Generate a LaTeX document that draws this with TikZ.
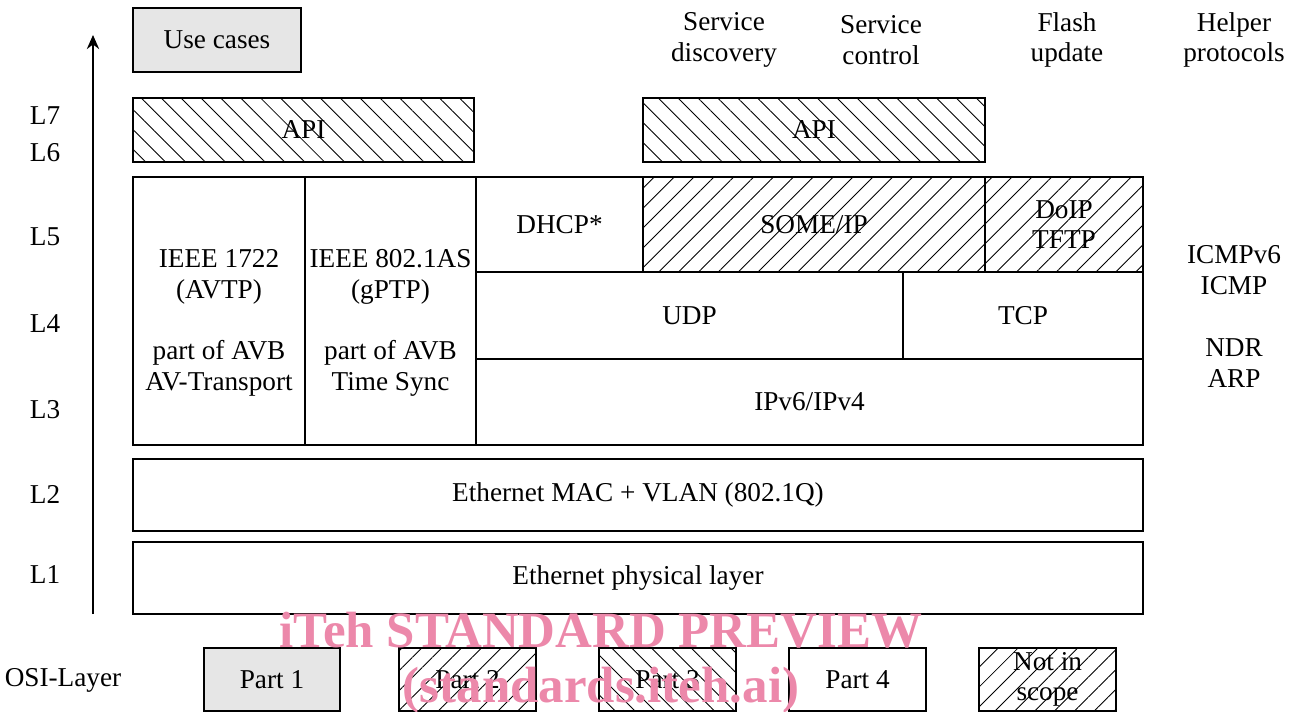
\documentclass[tikz,border=0pt]{standalone}
\usepackage{fontspec}
\setmainfont{Liberation Serif}
\usetikzlibrary{patterns.meta,arrows.meta}
\definecolor{casegray}{RGB}{230,230,230}
\definecolor{wmpink}{RGB}{236,136,170}
\tikzset{
	box/.style={draw=black, line width=1.1pt, inner sep=0pt, outer sep=0pt, align=center, font=\fontsize{15.5}{17.5}\selectfont},
	wh/.style 2 args={minimum width=#1*0.02cm, minimum height=#2*0.02cm},
	hatchnw/.style={pattern={Lines[angle=-45,distance=8pt,line width=0.5pt]}},
	hatchne/.style={pattern={Lines[angle=45,distance=8pt,line width=0.5pt]}},
	lbl/.style={font=\fontsize{15.5}{17.5}\selectfont, align=center, inner sep=0pt},
	wmark/.style={text=wmpink, font=\fontsize{29}{30}\selectfont\bfseries, inner sep=0pt},
}

\begin{document}
\begin{tikzpicture}[x=0.02cm, y=-0.02cm]
	\useasboundingbox (0,0) rectangle (1301,712);
	
	% OSI axis
	\coordinate (abot) at (93,614);
	\coordinate (atop) at (93,35);
	\draw [line width=1.1pt, -{Stealth[length=8pt,width=7pt]}] (abot) to (atop);
	
	\node [lbl] (l7) at (45,116) {L7};
	\node [lbl] (l6) at (45,153) {L6};
	\node [lbl] (l5) at (45,237) {L5};
	\node [lbl] (l4) at (45,324) {L4};
	\node [lbl] (l3) at (45,410) {L3};
	\node [lbl] (l2) at (45,494) {L2};
	\node [lbl] (l1) at (45,575) {L1};
	\node [lbl] (osi) at (63,680) {OSI-Layer};
	
	% headers
	\node [box, wh={168}{64}, fill=casegray] (usecases) at (217,40) {Use cases};
	\node [lbl] (sdisc) at (724,40) {Service\\discovery};
	\node [lbl] (sctrl) at (881,40) {Service\\control};
	\node [lbl] (flash) at (1067,40) {Flash\\update};
	\node [lbl] (helper) at (1234,40) {Helper\\protocols};
	
	% API
	\node [box, wh={341}{64}, hatchnw] (apil) at (303.5,130) {API};
	\node [box, wh={342}{64}, hatchnw] (apir) at (814,130) {API};
	
	% L3 - L5
	\node [box, wh={172}{268}, label={[lbl, yshift=-0.24cm]center:{IEEE 1722\\(AVTP)\\[17.5pt]part of AVB\\AV-Transport}}] (avtp) at (219,311) {};
	\node [box, wh={171}{268}, label={[lbl, yshift=-0.24cm]center:{IEEE 802.1AS\\(gPTP)\\[17.5pt]part of AVB\\Time Sync}}] (gptp) at (390.5,311) {};
	\node [box, wh={167}{95}] (dhcp) at (559.5,224.5) {DHCP*};
	\node [box, wh={342}{95}, hatchne] (someip) at (814,224.5) {SOME/IP};
	\node [box, wh={158}{95}, hatchne] (doip) at (1064,224.5) {DoIP\\TFTP};
	\node [box, wh={427}{87}] (udp) at (689.5,315.5) {UDP};
	\node [box, wh={240}{87}] (tcp) at (1023,315.5) {TCP};
	\node [box, wh={667}{86}] (ip) at (809.5,402) {IPv6/IPv4};
	
	% L1 - L2
	\node [box, wh={1010}{72}] (mac) at (638,495) {Ethernet MAC + VLAN (802.1Q)};
	\node [box, wh={1010}{72}] (phy) at (638,578) {Ethernet physical layer};
	
	\node [lbl] (icmp) at (1234,270) {ICMPv6\\ICMP};
	\node [lbl] (ndr) at (1234,363) {NDR\\ARP};
	
	% legend
	\node [box, wh={136}{63}, fill=casegray] (part1) at (272,679.5) {Part 1};
	\node [box, wh={137}{63}, hatchne] (part2) at (467.5,679.5) {Part 2};
	\node [box, wh={137}{63}, hatchnw] (part3) at (667.5,679.5) {Part 3};
	\node [box, wh={137}{63}] (part4) at (857.5,679.5) {Part 4};
	\node [box, wh={137}{63}, hatchne] (noscope) at (1047.5,679.5) {Not in\\scope};
	
	% watermark
	\node [wmark] (wm1) at (601,630) {iTeh STANDARD PREVIEW};
	\node [wmark] (wm2) at (601,690) {(standards.iteh.ai)};
\end{tikzpicture}
\end{document}
